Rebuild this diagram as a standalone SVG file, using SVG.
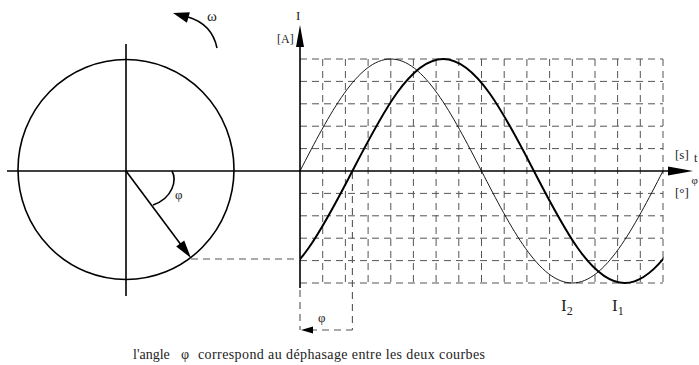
<svg xmlns="http://www.w3.org/2000/svg" width="699" height="365" viewBox="0 0 699 365">
<style>
.line{fill:none;stroke:#000;stroke-width:1.6}
.grid{fill:none;stroke:#555;stroke-width:1;stroke-dasharray:7 5}
.dash{fill:none;stroke:#555;stroke-width:1.1;stroke-dasharray:7 5}
.thin{fill:none;stroke:#000;stroke-width:0.9}
.thick{fill:none;stroke:#000;stroke-width:2}
.head{fill:#000;stroke:none}
text{font-family:"Liberation Serif","Times New Roman",serif;fill:#222}
</style>
<defs>
<clipPath id="plot"><rect x="300" y="40" width="363.5" height="260"/></clipPath>
</defs>
<rect width="699" height="365" fill="#fff"/>

<g id="grid">
<path class="grid" d="M300,59H663M300,81.4H663M300,103.8H663M300,126.2H663M300,148.6H663M300,193.4H663M300,215.8H663M300,238.2H663M300,260.6H663M300,283H663"/>
<path class="grid" d="M322.7,59V283M345.4,59V283M368.1,59V283M390.8,59V283M413.4,59V283M436.1,59V283M458.8,59V283M481.5,59V283M504.2,59V283M526.9,59V283M549.6,59V283M572.3,59V283M595,59V283M617.6,59V283M640.3,59V283M663,59V283"/>
</g>

<g id="phasor-circle">
<ellipse class="line" cx="126" cy="169.5" rx="108" ry="110"/>
<path class="line" d="M126,44V296"/>
</g>

<g id="connectors">
<path class="line" d="M7,171H668"/>
<polygon class="head" points="693,171 668,166.5 668,175.5"/>
<path class="line" d="M300,288V46"/>
<polygon class="head" points="300,25 296,47 304,47"/>
<path class="line" d="M126,171L186,251.5"/>
<polygon class="head" points="191,258 176.2,246.6 184.2,240.6"/>
<path class="line" d="M172,171C177,180 173,198 153,205" stroke-width="1.4"/>
<path class="line" d="M217,48Q212,24 188,17" stroke-width="1.5"/>
<polygon class="head" points="173,13 189.9,12.2 186.9,22.8"/>
<path class="dash" d="M191,259H300"/>
<path class="dash" d="M300,290V330M352.4,172V330M310,330H352.4"/>
<polygon class="head" points="301,330 313,326.5 313,333.5"/>
</g>

<g id="curve-I2">
<path class="thin" d="M300,171C329.6,113.6 357.9,59 390.75,59C423.6,59 451.9,113.6 481.5,171C511.1,228.4 539.4,283 572.25,283C605.1,283 633.4,228.4 663,171"/>
</g>
<g id="curve-I1">
<path class="thick" clip-path="url(#plot)" d="M261.65,283C294.5,283 322.8,228.4 352.4,171C382,113.6 410.3,59 443.15,59C476,59 504.3,113.6 533.9,171C563.5,228.4 591.8,283 624.65,283C657.5,283 685.8,228.4 715.4,171"/>
</g>

<g id="labels">
<text x="207" y="21" font-size="15">ω</text>
<text x="296" y="20" font-size="13">I</text>
<text x="277" y="43" font-size="12">[A]</text>
<text x="675" y="159" font-size="13">[s]</text>
<text x="694" y="162" font-size="12">t</text>
<text x="691.5" y="184" font-size="11">φ</text>
<text x="675" y="197" font-size="13">[°]</text>
<text x="175" y="199" font-size="13">φ</text>
<text x="318" y="322" font-size="13">φ</text>
<text x="561" y="311" font-size="17">I<tspan font-size="12" dy="4">2</tspan></text>
<text x="612" y="311" font-size="17">I<tspan font-size="12" dy="4">1</tspan></text>
<text y="359" font-size="14"><tspan x="133">l'angle</tspan><tspan x="181">φ</tspan><tspan x="198" textLength="287">correspond au déphasage entre les deux courbes</tspan></text>
</g>
</svg>
